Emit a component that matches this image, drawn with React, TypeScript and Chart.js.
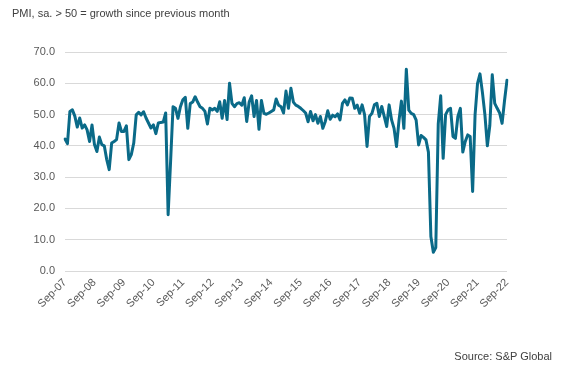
import React, { useEffect, useRef } from 'react';
import { Chart, registerables } from 'chart.js';

Chart.register(...registerables);

// Monthly PMI values, Sep-07 .. Sep-22 (each row: Sep of year to Aug of next year)
const pmi0708 = [42.2, 40.7, 51.0, 51.5, 49.5, 46.0, 48.9, 45.7, 46.7, 45.1, 41.4, 46.7];
const pmi0809 = [40.4, 38.2, 42.8, 40.4, 40.0, 35.6, 32.4, 40.9, 41.4, 42.0, 47.3, 44.6];
const pmi0910 = [44.6, 46.4, 35.6, 37.2, 40.9, 49.9, 50.7, 49.9, 50.9, 48.9, 47.3, 45.7];
const pmi1011 = [46.7, 43.9, 47.3, 47.5, 47.6, 50.5, 18.0, 35.0, 52.5, 52.0, 48.8, 52.5];
const pmi1112 = [54.7, 55.5, 45.6, 53.5, 54.0, 55.7, 54.0, 52.5, 52.0, 51.0, 47.0, 52.0];
const pmi1213 = [51.5, 52.0, 51.0, 54.1, 48.8, 54.5, 48.4, 60.0, 53.6, 52.5, 53.5, 53.8];
const pmi1314 = [53.0, 55.4, 47.8, 54.0, 56.0, 49.4, 54.5, 45.3, 54.5, 50.4, 50.1, 50.5];
const pmi1415 = [51.0, 51.5, 55.0, 53.0, 52.5, 50.5, 57.5, 52.0, 58.4, 54.0, 53.0, 52.6];
const pmi1516 = [52.0, 51.3, 50.5, 47.7, 51.0, 48.0, 50.0, 47.2, 49.4, 45.6, 47.8, 51.2];
const pmi1617 = [48.5, 49.8, 49.3, 50.2, 48.3, 53.6, 54.7, 53.1, 55.3, 55.2, 52.0, 53.0];
const pmi1718 = [50.4, 53.1, 50.0, 39.8, 49.4, 50.4, 53.1, 53.6, 49.4, 52.6, 49.4, 46.2];
const pmi1819 = [53.1, 48.3, 45.6, 39.8, 48.0, 54.3, 45.6, 64.5, 51.4, 50.4, 50.0, 48.2];
const pmi1920 = [40.3, 43.3, 42.7, 41.9, 38.0, 11.0, 6.0, 7.5, 47.0, 56.0, 36.0, 50.0];
const pmi2021 = [51.5, 52.0, 43.0, 42.4, 49.4, 52.0, 38.0, 41.4, 43.5, 43.0, 25.4, 50.0];
const pmi2122 = [60.0, 63.0, 57.0, 50.0, 40.0, 46.5, 62.7, 53.6, 52.0, 50.5, 47.2, 54.5, 61.0];

const pmiValues = [
  ...pmi0708, ...pmi0809, ...pmi0910, ...pmi1011, ...pmi1112,
  ...pmi1213, ...pmi1314, ...pmi1415, ...pmi1516, ...pmi1617,
  ...pmi1718, ...pmi1819, ...pmi1920, ...pmi2021, ...pmi2122,
];

const monthNames = ['Jan', 'Feb', 'Mar', 'Apr', 'May', 'Jun', 'Jul', 'Aug', 'Sep', 'Oct', 'Nov', 'Dec'];
const categories: string[] = pmiValues.map((_, i) => {
  const m = (8 + i) % 12;
  const y = 7 + Math.floor((8 + i) / 12);
  return `${monthNames[m]}-${String(y).padStart(2, '0')}`;
});

const xTickLabels = ['Sep-07', 'Sep-08', 'Sep-09', 'Sep-10', 'Sep-11', 'Sep-12', 'Sep-13', 'Sep-14',
  'Sep-15', 'Sep-16', 'Sep-17', 'Sep-18', 'Sep-19', 'Sep-20', 'Sep-21', 'Sep-22'];

const titleText = 'PMI, sa. > 50 = growth since previous month';
const sourceText = 'Source: S&P Global';

const FONT = '"Liberation Sans", Arial, sans-serif';

export default function App() {
  const ref = useRef<HTMLCanvasElement | null>(null);

  useEffect(() => {
    if (!ref.current) return;
    const chart = new Chart(ref.current, {
      type: 'line',
      data: {
        labels: categories,
        datasets: [
          {
            data: pmiValues,
            borderColor: '#0a6a88',
            backgroundColor: '#0a6a88',
            borderWidth: 3,
            pointRadius: 0,
            tension: 0,
            borderJoinStyle: 'round',
            borderCapStyle: 'round',
          },
        ],
      },
      options: {
        animation: false,
        responsive: false,
        devicePixelRatio: 1,
        layout: { padding: { top: 52, right: 58, left: 0, bottom: 53 } },
        plugins: { legend: { display: false }, tooltip: { enabled: false }, title: { display: false } },
        scales: {
          x: {
            type: 'category',
            offset: false,
            grid: { display: false, drawTicks: false },
            border: { display: false },
            afterFit: (s: any) => { s.height = 50; },
            ticks: {
              autoSkip: false,
              minRotation: 45,
              maxRotation: 45,
              padding: 5,
              color: '#595959',
              font: { family: FONT, size: 11 },
              callback: (_v: any, i: number) => (i % 12 === 0 ? xTickLabels[i / 12] : ''),
            },
          },
          y: {
            min: 0,
            max: 70,
            grid: { color: '#d9d9d9', lineWidth: 1, drawTicks: false },
            border: { display: false },
            afterFit: (s: any) => { s.width = 65; },
            ticks: {
              stepSize: 10,
              padding: 10,
              color: '#595959',
              font: { family: FONT, size: 11 },
              callback: (v: any) => Number(v).toFixed(1),
            },
          },
        },
      },
    });
    return () => chart.destroy();
  }, []);

  return (
    <div style={{ position: 'fixed', left: 0, top: 0, width: 565, height: 374, background: '#fff', fontFamily: FONT }}>
      <canvas ref={ref} width={565} height={374} style={{ position: 'absolute', left: 0, top: 0 }} />
      <div style={{ position: 'absolute', left: 12, top: 7, fontSize: 11, lineHeight: '13px', color: '#404040', whiteSpace: 'nowrap' }}>
        {titleText}
      </div>
      <div style={{ position: 'absolute', right: 13, top: 350, fontSize: 11, lineHeight: '13px', color: '#404040', whiteSpace: 'nowrap' }}>
        {sourceText}
      </div>
    </div>
  );
}
